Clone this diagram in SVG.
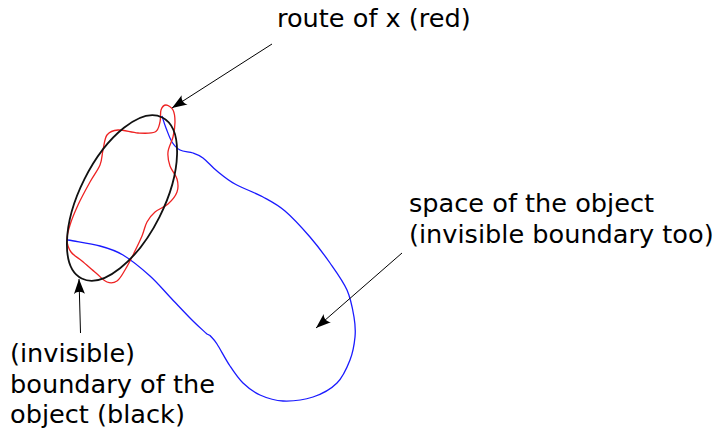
<svg xmlns="http://www.w3.org/2000/svg" width="716" height="431" viewBox="0 0 716 431">
<style>
.lbl{font-family:"DejaVu Sans","Liberation Sans",sans-serif;font-size:25.6px;fill:#000}
.conn{stroke:#000;stroke-width:1;fill:none;marker-end:url(#arr)}
</style>
<defs>
<marker id="arr" markerUnits="userSpaceOnUse" orient="auto" markerWidth="20" markerHeight="14" refX="0" refY="0" viewBox="-16 -7 18 14" overflow="visible">
<path d="M0,0 L-15,-5.5 C-12,-2 -12,2 -15,5.5 Z" fill="#000"/>
</marker>
</defs>
<rect width="716" height="431" fill="#fff"/>
<g id="space">
<path d="M162,116 C163.3,120 164.3,123.7 166,128 S169.7,138.3 172,142 S176.5,148.2 180,150 S189.2,151.7 193,153 S199,155 203,158 S211.7,166.7 217,171 S227.3,179.7 235,184 S254.7,192.5 263,197 S277.2,204.3 285,211 S302.5,228.3 310,237 S323.8,254.2 330,263 S343,281 347,290 S352.7,309.2 354,317 S355.7,329.8 355,337 S353,352.3 350,360 S343.2,376.8 337,383 S322,394 313,397 S291.8,401.3 283,401 S266.7,398 260,395 S248,387.8 243,383 S234.3,372.5 230,366 S220.3,349.2 217,344 S212.3,338.3 210,335.5 L207,334 C202.3,329.7 199.2,327.2 193,321 S177.2,304.5 170,297 S157.8,283 150,276 S131.3,260 123,255 S109.2,248.5 100,246 S78.7,242 68,240" fill="none" stroke="#1a1aff" stroke-width="1.3"/>
</g>
<g id="route">
<path d="M166,105 C168,105 171.5,107.2 173,110 S175,117.5 175,122 S174.2,132 173,137 S168.5,147.2 168,152 S168.5,161.5 170,166 S175.8,174.7 177,179 S178.5,187.8 177,192 S171.7,200.7 168,204 S158.5,209 155,212 S149.2,218 147,222 S144.2,230.8 142,236 S136.8,247.3 134,253 S127.8,265.3 125,270 S120,279 117,281 S110.5,283.3 107,282 S100.2,276.5 96,273 S86.2,264.5 82,261 S73.5,255.5 71,252 S67.2,244.5 67,240 S68.2,230.8 70,225 S74.7,212.2 78,205 S86.3,188.7 90,182 S97.8,170.3 100,165 S101.8,155 103,150 S104.5,138.3 107,135 S112.8,130.3 118,130 S131.8,132.7 138,133 S151.3,133.8 155,132 S159,125.7 160,122 S160,112.8 161,110 S164,105 166,105 Z" fill="none" stroke="#ee2222" stroke-width="1.3"/>
</g>
<g id="boundary">
<ellipse cx="122" cy="198" rx="90" ry="42" transform="rotate(-63.4 122 198)" fill="none" stroke="#111" stroke-width="1.8"/>
</g>
<g id="connectors">
<path class="conn" d="M272,44 L172,108"/>
<path class="conn" d="M402,253 L316,328"/>
<path class="conn" d="M80.5,333 L79,279"/>
</g>
<g id="label-route">
<text class="lbl" x="277" y="27">route of x (red)</text>
</g>
<g id="label-space">
<text class="lbl" x="409" y="212">space of the object</text>
<text class="lbl" x="409" y="243">(invisible boundary too)</text>
</g>
<g id="label-boundary">
<text class="lbl" x="10" y="362">(invisible)</text>
<text class="lbl" x="10" y="392.5">boundary of the</text>
<text class="lbl" x="10" y="423">object (black)</text>
</g>
</svg>
